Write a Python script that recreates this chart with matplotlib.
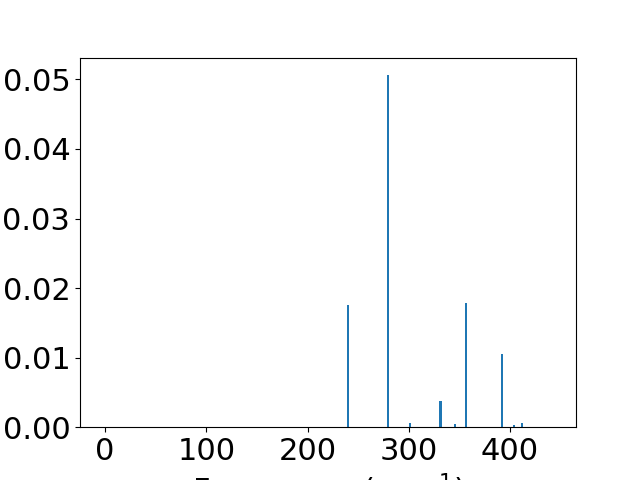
import matplotlib
matplotlib.use("Agg")
import matplotlib.pyplot as plt

# frequencies (cm^-1) and intensities
freqs = [-1.5, 239.6, 279.5, 300.8, 331.4, 345.8, 356.3, 392.0, 403.8, 411.6, 442.0]
intens = [0.0, 0.0175, 0.0506, 0.0006, 0.0037, 0.0004, 0.0178, 0.0105, 0.0003, 0.0006, 0.0]

plt.rcParams["font.size"] = 22

fig, ax = plt.subplots(figsize=(6.4, 4.8), dpi=100)
ax.bar(freqs, intens, width=2.0)
ax.set_xlabel("Frequency (cm$^{-1}$)")

fig.savefig("out.png", dpi=100)
